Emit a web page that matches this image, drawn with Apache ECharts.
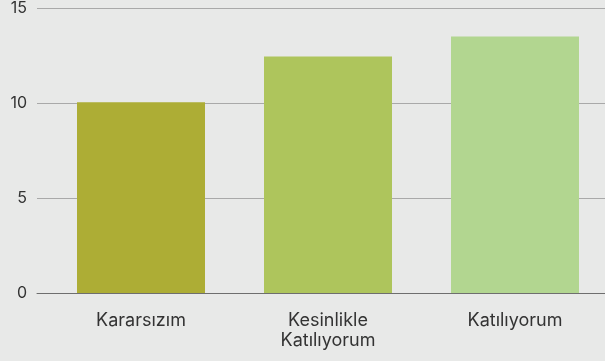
<!DOCTYPE html>
<html>
<head>
<meta charset="utf-8">
<script src="https://cdn.jsdelivr.net/npm/echarts@6/dist/echarts.min.js"></script>
<style>
  html, body { margin: 0; padding: 0; background: #e8e9e8; overflow: hidden; }
  #chart { width: 620px; height: 361px; }
</style>
</head>
<body>
<div id="chart"></div>
<script>
// Survey answers and how many respondents picked each
const categories = ['Kararsızım', 'Kesinlikle\nKatılıyorum', 'Katılıyorum'];
const counts = [10, 12.4, 13.45];
const barColors = ['#adad35', '#aec55c', '#b2d690'];
const yTicks = [0, 5, 10, 15];

const chart = echarts.init(document.getElementById('chart'));
const textColor = '#333333';
const font = 'Inter, "Open Sans", sans-serif';

chart.setOption({
  backgroundColor: '#e8e9e8',
  animation: false,
  grid: [
    // value scale with its gridlines (run to the right edge of the view)
    { left: 37, width: 568, top: 7, bottom: 68 },
    // bars and category labels
    { left: 47.5, width: 561, top: 7, bottom: 68 }
  ],
  xAxis: [
    {
      gridIndex: 0, type: 'category', data: categories,
      axisLine: { show: true, lineStyle: { color: '#6e6e6e', width: 1 } },
      axisTick: { show: false }, axisLabel: { show: false }
    },
    {
      gridIndex: 1, type: 'category', data: categories,
      axisLine: { show: false }, axisTick: { show: false },
      axisLabel: {
        color: textColor, fontFamily: font, fontSize: 18,
        lineHeight: 20, margin: 18
      }
    }
  ],
  yAxis: [
    {
      gridIndex: 0, type: 'value',
      min: yTicks[0], max: yTicks[yTicks.length - 1], interval: 5,
      axisLine: { show: false }, axisTick: { show: false },
      axisLabel: { color: textColor, fontFamily: font, fontSize: 16, margin: 10 },
      splitLine: { lineStyle: { color: '#a9a9a9', width: 1 } }
    },
    {
      gridIndex: 1, type: 'value',
      min: yTicks[0], max: yTicks[yTicks.length - 1], interval: 5,
      show: false, splitLine: { show: false }
    }
  ],
  series: [{
    type: 'bar',
    xAxisIndex: 1, yAxisIndex: 1,
    barWidth: 128,
    data: counts.map((v, i) => ({ value: v, itemStyle: { color: barColors[i] } })),
    z: 1
  }]
});
</script>
</body>
</html>
